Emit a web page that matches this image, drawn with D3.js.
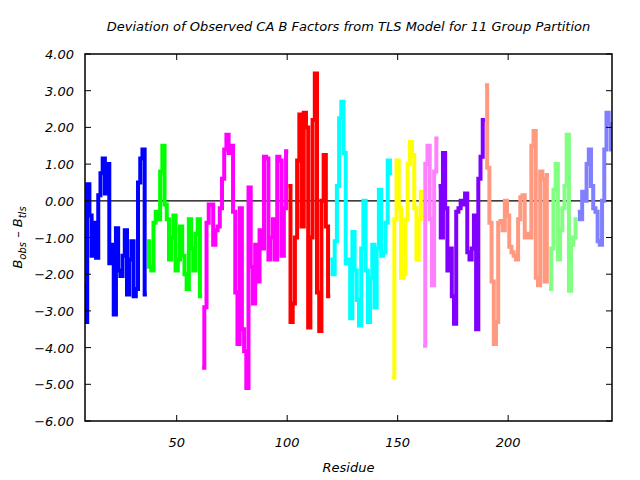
<!DOCTYPE html>
<html><head><meta charset="utf-8">
<script src="https://cdn.jsdelivr.net/npm/d3@7"></script>
<style>body{margin:0;background:#fff}</style>
</head><body>
<svg id="c" width="640" height="480"></svg>
<script>
// ---- data ----
const firstResidue = [8, 37, 62, 101, 120, 148, 162, 169, 190, 219, 232];
const g1 = [-2.3, -3.3, 0.45, -0.4, -1.5, -0.6, -1.55, 0.15, 0.75, 1.15, 0.2, 1.0, -1.7, -1.2, -3.1, -0.75, -1.9, -2.05, -1.5, -0.8, -2.55, -1.6, -1.1, -2.6, -2.4, 0.5, 1.15, 1.4, -2.55];
const g2 = [-1.1, -1.8, -1.9, -0.6, -0.3, -0.5, 0.8, 1.5, -0.1, -0.5, -1.6, -1.0, -0.4, -1.9, -1.6, -0.7, -1.5, -2.0, -2.4, -0.5, -1.3, -1.9, -0.9, -0.5, -2.6];
const g3 = [-4.55, -2.9, -0.6, -0.1, -0.1, -1.2, -0.8, -0.7, -0.2, 0.6, 1.4, 1.8, 1.3, 1.5, -0.3, -2.5, -3.9, -0.2, -3.5, -4.1, -5.1, 0.36, -1.8, -2.8, -1.2, -2.2, -0.8, -1.3, 1.2, 1.15, -1.6, -1.0, -0.5, -1.6, 1.2, 1.1, -1.5, -0.2, 1.35];
const g4 = [0.4, -3.3, -2.8, -1.0, 1.1, 2.35, -0.7, 2.4, 2.0, -3.45, -1.0, 2.2, 3.47, -2.5, -3.55, 0.0, 1.25, -0.7, -2.6];
const g5 = [-1.6, -2.0, -1.1, 0.4, 2.25, 2.7, 1.3, -1.7, -1.6, -3.2, -0.85, -1.9, -2.7, -3.4, -1.3, 0.0, -1.9, -3.3, -2.1, -1.2, -2.9, -1.3, 0.3, -1.5, -1.4, -0.6, 1.1, 0.75];
const g6 = [-4.8, -0.5, 1.1, -0.2, -2.1, -2.0, -0.5, 1.0, 1.6, 1.25, -0.2, -1.6, -0.5, 0.25];
const g7 = [-3.95, 1.0, 1.5, -0.5, -2.3, 0.8, 1.7];
const g8 = [0.4, -1.0, 1.3, -0.2, -1.9, -1.3, -2.6, -3.35, -0.3, -0.2, 0.0, -0.1, 0.2, -1.4, -1.6, -1.3, -0.4, -3.5, 0.6, 1.2, 2.2];
const g9 = [3.15, 0.9, -0.6, -2.2, -3.9, -3.3, -0.6, -0.55, -0.8, 0.0, -0.4, -1.25, -1.4, -1.5, -1.6, -0.5, 0.1, 0.15, -1.0, -0.9, -1.0, 1.5, 1.9, -2.1, -2.3, 0.8, 0.6, -2.2, 0.7];
const g10 = [-2.4, -1.3, 0.3, 1.0, -1.6, -0.8, -0.2, 0.4, 1.8, -2.45, -1.2, -1.0, -0.5];
const g11 = [-0.3, -0.5, 0.25, 0.0, 1.0, 1.4, 0.4, -0.2, -0.3, -1.1, -1.2, 0.0, 1.4, 2.4, 2.1, 1.4];
const groups = [g1, g2, g3, g4, g5, g6, g7, g8, g9, g10, g11];
const xTicks = [50, 100, 150, 200];
const yTicks = [4, 3, 2, 1, 0, -1, -2, -3, -4, -5, -6];
const xDomain = [8.5, 247];
const yDomain = [-6, 4];
const colors = ["#0000ff", "#00ff00", "#ff00ff", "#ff0000", "#00ffff", "#ffff00", "#ff80ff", "#8000ff", "#ff9980", "#80ff80", "#8080ff"];

// ---- layout ----
const L = 85, R = 612, T = 54, B = 421;
const svg = d3.select("#c");
const font = "DejaVu Sans, sans-serif";
const x = d3.scaleLinear().domain(xDomain).range([L, R]);
const y = d3.scaleLinear().domain(yDomain).range([B, T]);

svg.append("defs").append("clipPath").attr("id", "clip")
  .append("rect").attr("x", L).attr("y", T).attr("width", R - L).attr("height", B - T);

// zero line
svg.append("line").attr("x1", L).attr("x2", R).attr("y1", y(0)).attr("y2", y(0))
  .attr("stroke", "#000").attr("stroke-width", 1.3);

// data (histogram steps)
const line = d3.line().x(d => x(d[0])).y(d => y(d[1])).curve(d3.curveStep);
const gData = svg.append("g").attr("clip-path", "url(#clip)");
groups.forEach((vals, i) => {
  const pts = vals.map((v, k) => [firstResidue[i] + k, v]);
  const padded = [[pts[0][0] - 0.5, pts[0][1]], ...pts, [pts[pts.length - 1][0] + 0.5, pts[pts.length - 1][1]]];
  gData.append("path").attr("d", line(padded)).attr("fill", "none")
    .attr("stroke", colors[i]).attr("stroke-width", 4).attr("stroke-linejoin", "miter");
});

// axes (ticks inward, mirrored)
const tl = 6;
const ax = svg.append("g").attr("stroke", "#000").attr("stroke-width", 1);
xTicks.forEach(t => {
  ax.append("line").attr("x1", x(t)).attr("x2", x(t)).attr("y1", B).attr("y2", B - tl);
  ax.append("line").attr("x1", x(t)).attr("x2", x(t)).attr("y1", T).attr("y2", T + tl);
});
yTicks.forEach(t => {
  ax.append("line").attr("x1", L).attr("x2", L + tl).attr("y1", y(t)).attr("y2", y(t));
  ax.append("line").attr("x1", R).attr("x2", R - tl).attr("y1", y(t)).attr("y2", y(t));
});
svg.append("rect").attr("x", L).attr("y", T).attr("width", R - L).attr("height", B - T)
  .attr("fill", "none").attr("stroke", "#000").attr("stroke-width", 1.5);

const txt = svg.append("g").attr("font-family", font).attr("font-style", "italic").attr("fill", "#000").attr("font-size", 13);
xTicks.forEach(t => {
  txt.append("text").attr("x", x(t)).attr("y", 447).attr("text-anchor", "middle").text(d3.format("d")(t));
});
yTicks.forEach(t => {
  txt.append("text").attr("x", 74).attr("y", y(t) + 5).attr("text-anchor", "end").text(d3.format(".2f")(t));
});
txt.append("text").attr("x", (L + R) / 2).attr("y", 31).attr("text-anchor", "middle")
  .text("Deviation of Observed CA B Factors from TLS Model for 11 Group Partition");
txt.append("text").attr("x", (L + R) / 2).attr("y", 472).attr("text-anchor", "middle").text("Residue");
const yl = txt.append("text").attr("transform", `translate(22,${(T + B) / 2}) rotate(-90)`).attr("text-anchor", "middle");
yl.append("tspan").text("B");
yl.append("tspan").attr("font-size", 10).attr("dy", 4).text("obs");
yl.append("tspan").attr("dy", -4).text(" \u2013 B");
yl.append("tspan").attr("font-size", 10).attr("dy", 4).text("tls");
</script>
</body></html>
